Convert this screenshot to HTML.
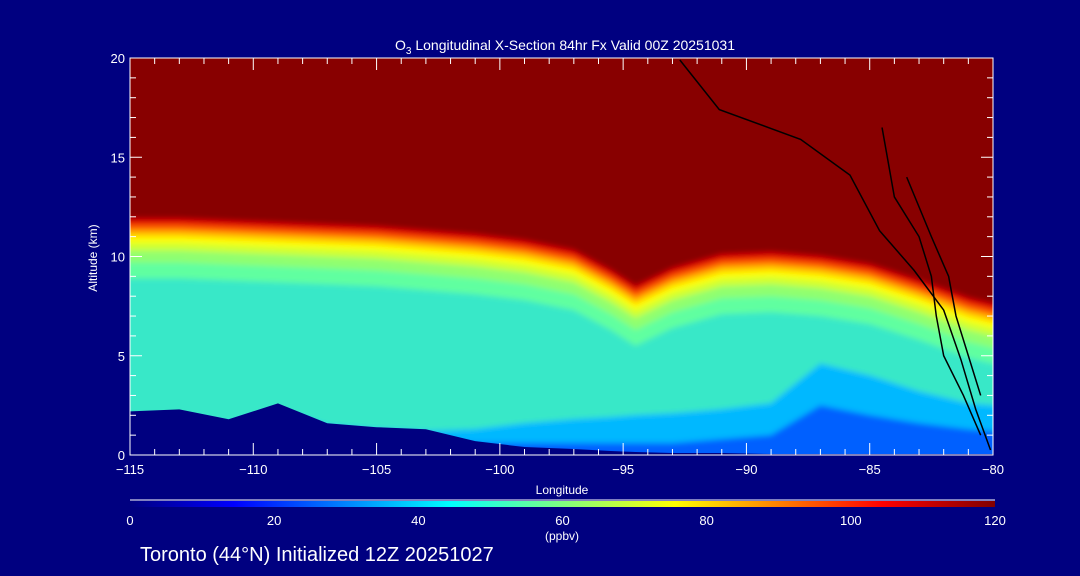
<!DOCTYPE html>
<html><head><meta charset="utf-8"><style>
html,body{margin:0;padding:0;background:#000080;}
svg{display:block;font-family:"Liberation Sans",sans-serif;}
</style></head><body>
<svg id="c" width="1080" height="576" viewBox="0 0 1080 576">
<defs>
<clipPath id="pc"><rect x="130" y="58" width="863" height="397"/></clipPath>
<filter id="bl" x="-5%" y="-5%" width="110%" height="110%"><feGaussianBlur stdDeviation="3"/></filter>
<linearGradient id="cb" x1="0" x2="1" y1="0" y2="0">
<stop offset="0" stop-color="#000080"/><stop offset="0.12" stop-color="#0000ff"/><stop offset="0.37" stop-color="#00ffff"/><stop offset="0.5" stop-color="#80ff80"/><stop offset="0.63" stop-color="#ffff00"/><stop offset="0.87" stop-color="#ff0000"/><stop offset="1" stop-color="#800000"/>
</linearGradient>
</defs>
<g id="field" clip-path="url(#pc)"><g id="fb" filter="url(#bl)"></g></g>
<g id="terr" clip-path="url(#pc)"></g>
<g id="cont" clip-path="url(#pc)"></g>
<rect x="130" y="58" width="863" height="397" fill="none" stroke="#fff" stroke-width="1"/>
<g id="axes" fill="#fff" font-size="13"></g>
<text x="565" y="50" fill="#fff" font-size="14" text-anchor="middle">O<tspan font-size="10" dy="4">3</tspan><tspan dy="-4"> Longitudinal X-Section 84hr  Fx Valid 00Z 20251031</tspan></text>
<text x="97" y="258" fill="#fff" font-size="12" text-anchor="middle" transform="rotate(-90 97 258)">Altitude (km)</text>
<text x="562" y="494" fill="#fff" font-size="12" text-anchor="middle">Longitude</text>
<line x1="130" y1="500" x2="995" y2="500" stroke="#fff"/>
<rect x="130" y="501" width="865" height="6" fill="url(#cb)"/>
<g id="cbl" fill="#fff" font-size="13"></g>
<text x="562" y="540" fill="#fff" font-size="12" text-anchor="middle">(ppbv)</text>
<text x="140" y="561" fill="#fff" font-size="20">Toronto (44°N) Initialized 12Z 20251027</text>
</svg>
<script>
const lons=[-115,-113,-111,-109,-107,-105,-103,-101,-99,-97,-95.5,-94.5,-93,-91,-89,-87,-85,-83,-81,-80];
const tropo=[11.9,11.9,11.8,11.7,11.6,11.5,11.3,11.1,10.8,10.3,9.3,8.5,9.4,10.1,10.2,10.0,9.6,8.8,7.9,7.6];
const bodyTop=[9.0,9.0,8.9,8.8,8.7,8.6,8.5,8.3,8.0,7.5,6.6,5.8,6.6,7.2,7.3,7.0,6.6,6.0,5.2,5.0];
const blueTop=[2.0,2.0,1.6,2.3,1.5,1.3,1.2,1.3,1.6,1.8,1.9,2.0,2.1,2.3,2.6,4.6,4.0,3.2,2.6,2.5];
const blueMid=[1.0,1.0,1.0,1.0,1.0,1.0,0.8,0.6,0.6,0.6,0.6,0.6,0.6,0.8,1.0,2.5,2.0,1.6,1.3,1.2];
const terrain=[2.2,2.3,1.8,2.6,1.6,1.4,1.3,0.7,0.4,0.3,0.2,0.15,0.1,0.1,0.05,0.05,0.05,0.05,0.05,0.05];
const xTicks=[-115,-110,-105,-100,-95,-90,-85,-80];
const yTicks=[0,5,10,15,20];
const cbTicks=[0,20,40,60,80,100,120];
const contourLons=[[-92.7,-91.1,-87.8,-85.8,-84.6,-83.2,-82.0,-81.3,-80.7,-80.1],[-84.5,-84,-83,-82.5,-82.3,-82,-81.2,-80.5],[-83.5,-82.5,-81.8,-81.5,-81,-80.5]];
const contourAlts=[[19.9,17.4,15.9,14.1,11.3,9.3,7.3,4.8,2.3,0.25],[16.5,13,11,9,7,5,3,1],[14,11,9,7,5,3]];
const NS="http://www.w3.org/2000/svg";
const X=l=>130+(l+115)/35*863, Y=a=>455-a/20*397;
function mk(t,p,at){const e=document.createElementNS(NS,t);for(const k in at)e.setAttribute(k,at[k]);p.appendChild(e);return e;}
function upper(arr,off){let d="M100,40 L100,"+Y(arr[0]+off)+" ";lons.forEach((l,i)=>d+="L"+X(l)+","+Y(arr[i]+off)+" ");return d+"L1030,"+Y(arr[arr.length-1]+off)+" L1030,40Z";}
function lower(arr){let d="M100,480 L100,"+Y(arr[0])+" ";lons.forEach((l,i)=>d+="L"+X(l)+","+Y(arr[i])+" ");return d+"L1030,"+Y(arr[arr.length-1])+" L1030,480Z";}
const fb=document.getElementById('fb');
const r=mk('rect',fb,{x:90,y:30,width:950,height:460,fill:'#38e8c8'});

const bp=mk('path',fb,{d:upper(bodyTop,0),fill:'#48f0c0'});

const bands=[[-3,'#60ffa0'],[-2.2,'#90ff70'],[-1.6,'#d0ff30'],[-1.2,'#ffff00'],[-0.9,'#ffc000'],[-0.6,'#ff6000'],[-0.3,'#e00000'],[0,'#880000']];
bands.forEach(b=>{const p=mk('path',fb,{d:upper(tropo,b[0]),fill:b[1]});
});
[[blueTop,'#00b8ff'],[blueMid,'#0060ff']].forEach(b=>{const p=mk('path',fb,{d:lower(b[0]),fill:b[1]});
});
const tp=mk('path',document.getElementById('terr'),{d:lower(terrain),fill:'#000080'});

const cg=document.getElementById('cont');
contourLons.forEach((ls,j)=>{let d="";ls.forEach((l,i)=>d+=(i?"L":"M")+X(l)+","+Y(contourAlts[j][i])+" ");
const p=mk('path',cg,{d:d,fill:'none',stroke:'#000','stroke-width':1.5});
});
const ax=document.getElementById('axes');
for(let l=-115;l<=-80;l++){const big=l%5===0;
mk('line',ax,{x1:X(l),x2:X(l),y1:455,y2:455-(big?12:6),stroke:'#fff'});
mk('line',ax,{x1:X(l),x2:X(l),y1:58,y2:58+(big?12:6),stroke:'#fff'});}
xTicks.forEach(l=>{const t=mk('text',ax,{x:X(l),y:474,'text-anchor':'middle'});t.textContent=(l<0?'\u2212':'')+Math.abs(l);
});
for(let a=0;a<=20;a++){const big=a%5===0;
mk('line',ax,{x1:130,x2:130+(big?12:6),y1:Y(a),y2:Y(a),stroke:'#fff'});
mk('line',ax,{x1:993,x2:993-(big?12:6),y1:Y(a),y2:Y(a),stroke:'#fff'});}
yTicks.forEach(a=>{const t=mk('text',ax,{x:125,y:Y(a)+5,'text-anchor':'end'});t.textContent=a;
});
const cb=document.getElementById('cbl');
cbTicks.forEach(v=>{const t=mk('text',cb,{x:130+v/120*865,y:525,'text-anchor':'middle'});t.textContent=v;
});
</script>
</body></html>
